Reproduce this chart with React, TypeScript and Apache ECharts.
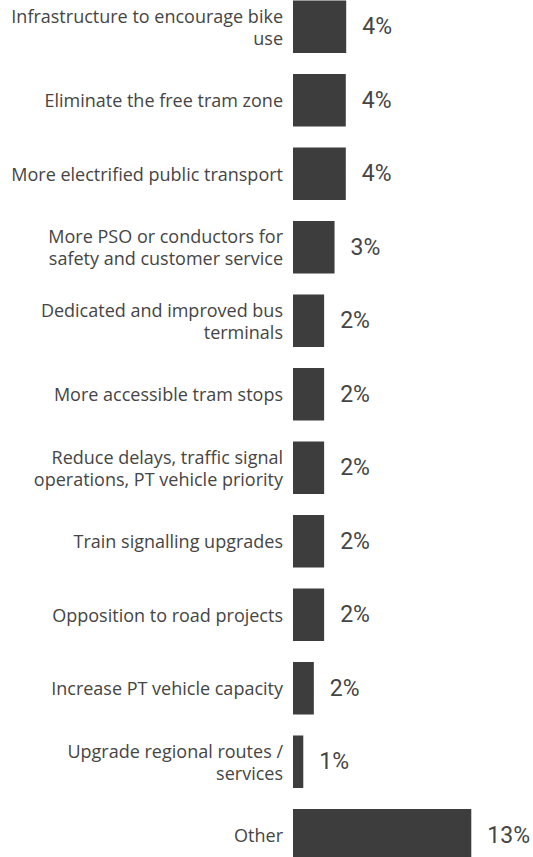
import React, { useEffect, useRef } from "react";
import * as echarts from "echarts";

const categories: string[] = [
  "Infrastructure to encourage bike\nuse",
  "Eliminate the free tram zone",
  "More electrified public transport",
  "More PSO or conductors for\nsafety and customer service",
  "Dedicated and improved bus\nterminals",
  "More accessible tram stops",
  "Reduce delays, traffic signal\noperations, PT vehicle priority",
  "Train signalling upgrades",
  "Opposition to road projects",
  "Increase PT vehicle capacity",
  "Upgrade regional routes /\nservices",
  "Other",
];

const values: number[] = [3.88, 3.85, 3.85, 3.03, 2.27, 2.27, 2.27, 2.27, 2.27, 1.52, 0.75, 13.0];

const valueLabels: string[] = ["4%", "4%", "4%", "3%", "2%", "2%", "2%", "2%", "2%", "2%", "1%", "13%"];

export default function App() {
  const ref = useRef<HTMLDivElement>(null);
  useEffect(() => {
    if (!ref.current) return;
    const chart = echarts.init(ref.current, undefined, { renderer: "svg" });
    chart.setOption({
      animation: false,
      backgroundColor: "#ffffff",
      grid: { left: 293, right: 0, top: 0, bottom: 0, containLabel: false },
      xAxis: {
        type: "value",
        min: 0,
        max: 17.5,
        show: false,
      },
      yAxis: {
        type: "category",
        data: categories,
        inverse: true,
        axisLine: { show: false },
        axisTick: { show: false },
        splitLine: { show: false },
        axisLabel: {
          margin: 10,
          fontFamily: "Open Sans",
          fontSize: 18,
          lineHeight: 22,
          color: "#454545",
          align: "right",
        },
      },
      series: [
        {
          type: "bar",
          data: values,
          barCategoryGap: "28.5%",
          itemStyle: { color: "#3d3d3d" },
          label: {
            show: true,
            position: "right",
            distance: 16,
            fontFamily: "Roboto",
            fontSize: 23,
            color: "#454545",
            formatter: (p: any) => valueLabels[p.dataIndex],
          },
        },
      ],
    });
    return () => chart.dispose();
  }, []);
  return (
    <div
      ref={ref}
      style={{ position: "fixed", left: 0, top: -10, width: 533, height: 882 }}
    />
  );
}
